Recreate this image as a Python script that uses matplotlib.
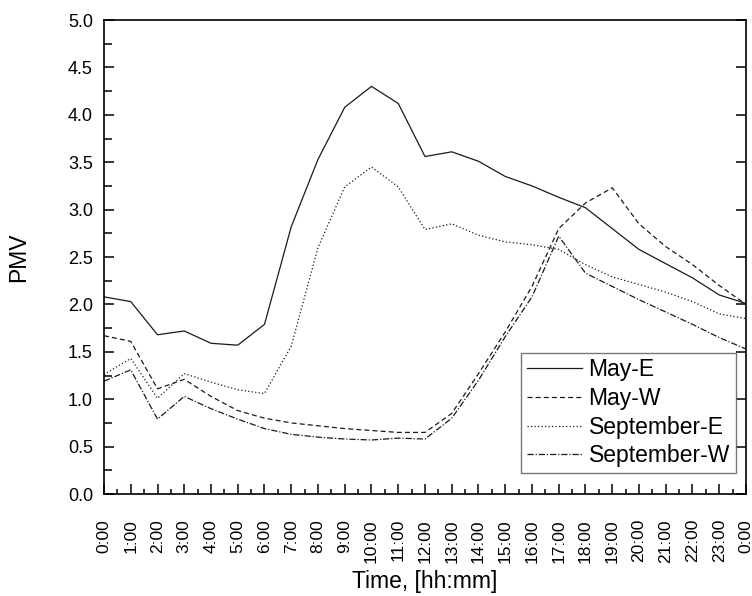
import matplotlib.pyplot as plt
import numpy as np
from matplotlib.ticker import MultipleLocator

plt.rcParams['font.family'] = ['Liberation Sans', 'DejaVu Sans']

# hourly PMV values, 0:00 .. next 0:00
hours = np.arange(25)
hour_labels = ['%d:00' % (h % 24) for h in hours]

may_e = [2.08, 2.03, 1.68, 1.72, 1.59, 1.57, 1.79, 2.82, 3.53, 4.08, 4.30, 4.12, 3.56,
         3.61, 3.51, 3.35, 3.25, 3.13, 3.02, 2.80, 2.58, 2.43, 2.28, 2.10, 2.01]
may_w = [1.67, 1.61, 1.11, 1.21, 1.03, 0.88, 0.80, 0.75, 0.72, 0.69, 0.67, 0.65, 0.65,
         0.85, 1.27, 1.71, 2.19, 2.80, 3.07, 3.23, 2.85, 2.61, 2.42, 2.20, 2.00]
sep_e = [1.26, 1.43, 1.01, 1.27, 1.18, 1.10, 1.06, 1.56, 2.60, 3.24, 3.45, 3.24, 2.79,
         2.85, 2.73, 2.66, 2.63, 2.58, 2.42, 2.29, 2.21, 2.13, 2.03, 1.90, 1.85]
sep_w = [1.19, 1.31, 0.79, 1.03, 0.90, 0.79, 0.69, 0.63, 0.60, 0.58, 0.57, 0.59, 0.58,
         0.80, 1.20, 1.66, 2.08, 2.72, 2.33, 2.19, 2.05, 1.92, 1.79, 1.65, 1.53]

fig = plt.figure(figsize=(7.52, 5.96), dpi=100)
ax = fig.add_axes([0.1383, 0.1711, 0.8537, 0.7953])

c = '#1a1a1a'
ax.plot(hours, may_e, color=c, lw=0.9, ls='-', label='May-E')
ax.plot(hours, may_w, color=c, lw=0.9, ls=(0, (4, 2.5)), label='May-W')
ax.plot(hours, sep_e, color=c, lw=0.9, ls=(0, (1, 1.8)), label='September-E')
ax.plot(hours, sep_w, color=c, lw=0.9, ls=(0, (5, 1.5, 1, 1.5)), label='September-W')

ax.set_xlim(0, 24)
ax.set_ylim(0, 5)
ax.set_xticks(hours)
ax.set_xticklabels(hour_labels, rotation=90)
ax.xaxis.set_minor_locator(MultipleLocator(0.5))
ax.yaxis.set_major_locator(MultipleLocator(0.5))
ax.yaxis.set_minor_locator(MultipleLocator(0.25))
ax.yaxis.set_major_formatter(plt.FormatStrFormatter('%.1f'))

ax.tick_params(axis='x', which='major', direction='in', length=7, width=1.1,
               pad=18, labelsize=12.5, top=False)
ax.tick_params(axis='x', which='minor', direction='in', length=3.5, width=1.1, top=False)
ax.tick_params(axis='y', which='major', direction='in', length=7, width=1.1,
               pad=8, labelsize=13, right=True)
ax.tick_params(axis='y', which='minor', direction='in', length=6, width=1.1, right=False)
for s in ax.spines.values():
    s.set_linewidth(1.2)

ax.set_xlabel('Time, [hh:mm]', fontsize=16.5)
ax.set_ylabel('PMV', fontsize=16.5)
ax.xaxis.set_label_coords(0.5, -0.16)
ax.yaxis.set_label_coords(-0.115, 0.5)

leg = ax.legend(loc='lower right', bbox_to_anchor=(0.984, 0.044), borderaxespad=0,
                fontsize=16.5, frameon=True, fancybox=False, handlelength=2.4,
                handletextpad=0.3, labelspacing=0.25, borderpad=0.25)
leg.get_frame().set_edgecolor('#555555')
leg.get_frame().set_linewidth(1.0)

fig.savefig('out.png', dpi=100)
